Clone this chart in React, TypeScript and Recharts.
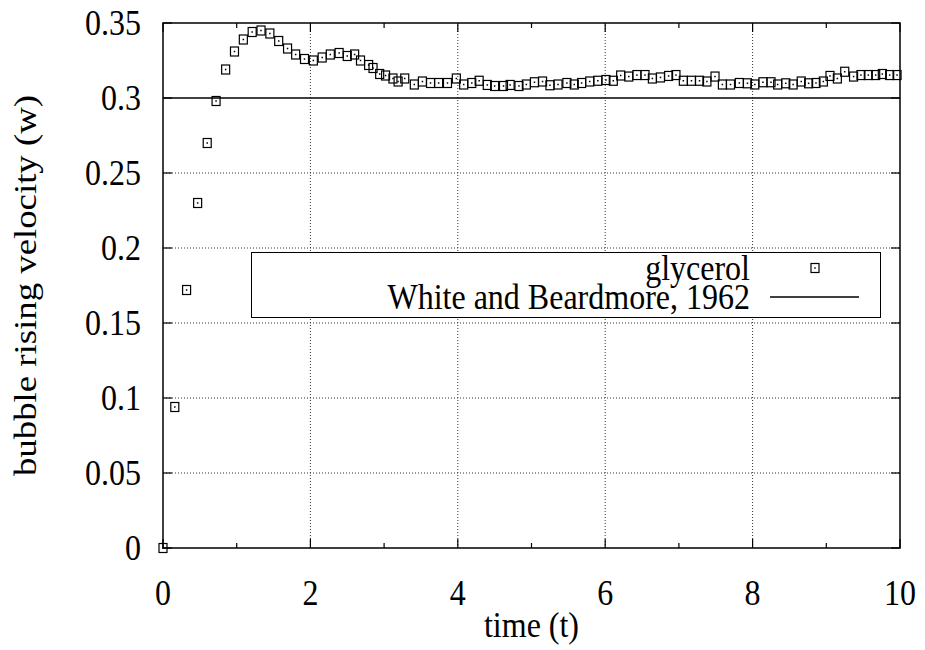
import {
  ComposedChart, Scatter, Line, XAxis, YAxis, ReferenceLine, ReferenceArea, Legend,
} from 'recharts';

// glycerol run
const glycerolT = [
  0, 0.16, 0.32, 0.47, 0.60, 0.72, 0.85, 0.97, 1.09, 1.21,
  1.33, 1.45, 1.57, 1.69, 1.80, 1.92, 2.04, 2.16, 2.27, 2.39,
  2.50, 2.60, 2.68, 2.79, 2.85, 2.94, 3.02, 3.12, 3.19, 3.28,
  3.41, 3.52, 3.63, 3.74, 3.86, 3.98, 4.08, 4.19, 4.29, 4.40,
  4.50, 4.62, 4.71, 4.83, 4.93, 5.04, 5.15, 5.25, 5.36, 5.48,
  5.58, 5.68, 5.79, 5.90, 6.01, 6.11, 6.21, 6.32, 6.43, 6.54,
  6.64, 6.75, 6.86, 6.96, 7.06, 7.17, 7.28, 7.38, 7.49, 7.59,
  7.70, 7.82, 7.93, 8.03, 8.14, 8.25, 8.34, 8.45, 8.55, 8.66,
  8.76, 8.86, 8.96, 9.05, 9.15, 9.25, 9.37, 9.47, 9.57, 9.67,
  9.76, 9.86, 9.96,
];
const glycerolW = [
  0, 0.094, 0.172, 0.230, 0.270, 0.298, 0.319, 0.331, 0.339, 0.344,
  0.345, 0.343, 0.338, 0.333, 0.329, 0.326, 0.325, 0.327, 0.329, 0.330,
  0.328, 0.329, 0.325, 0.322, 0.320, 0.316, 0.315, 0.313, 0.311, 0.313,
  0.309, 0.311, 0.310, 0.310, 0.310, 0.313, 0.309, 0.310, 0.3115, 0.3087,
  0.308, 0.308, 0.3087, 0.308, 0.309, 0.3105, 0.311, 0.3085, 0.309, 0.310,
  0.309, 0.310, 0.311, 0.3115, 0.312, 0.3115, 0.315, 0.3143, 0.3153, 0.3153,
  0.313, 0.3137, 0.3147, 0.3153, 0.3115, 0.3115, 0.3115, 0.311, 0.3143, 0.309,
  0.309, 0.310, 0.3098, 0.309, 0.3105, 0.3105, 0.309, 0.3098, 0.309, 0.311,
  0.3098, 0.310, 0.311, 0.3147, 0.313, 0.3175, 0.3143, 0.3153, 0.3153, 0.3153,
  0.316, 0.3153, 0.3153,
];

// White and Beardmore, 1962 terminal velocity
const beardmoreT = [0, 10];
const beardmoreW = [0.3, 0.3];

const seriesNames = ['glycerol', 'White and Beardmore, 1962'];

const xTicks = [0, 1, 2, 3, 4, 5, 6, 7, 8, 9, 10];
const xLabelled = [0, 2, 4, 6, 8, 10];
const yTicks = [0, 0.05, 0.1, 0.15, 0.2, 0.25, 0.3, 0.35];
const xGrid = [2, 4, 6, 8];
const yGrid = [0.05, 0.1, 0.15, 0.2, 0.25];

const glycerolData = glycerolT.map((t, i) => ({ t, w: glycerolW[i] }));
const beardmoreData = beardmoreT.map((t, i) => ({ t, w: beardmoreW[i] }));

const FONT = '"Liberation Serif", "Times New Roman", serif';
const FS = 32;
const STRETCH = 1.15; // the reference text is drawn taller than it is wide
const PLOT_TOP = 23;
const PLOT_RIGHT = 900;

function SText({ x, y, anchor, children }: { x: number; y: number; anchor: string; children: any }) {
  return (
    <text
      transform={`translate(${x},${y}) scale(1,${STRETCH})`}
      textAnchor={anchor as any}
      fontFamily={FONT}
      fontSize={FS}
      fill="#000"
    >
      {children}
    </text>
  );
}

function Marker({ cx, cy }: { cx: number; cy: number }) {
  return (
    <g>
      <rect x={cx - 4} y={cy - 4.5} width={8} height={9} fill="none" stroke="#000" strokeWidth={1.2} />
      <rect x={cx - 0.75} y={cy - 0.75} width={1.5} height={1.5} fill="#000" />
    </g>
  );
}

function XTick(props: any) {
  const { x, y, payload } = props;
  const major = xLabelled.includes(payload.value);
  const len = major ? 9 : 5;
  return (
    <g>
      <line x1={x} y1={y} x2={x} y2={y - len} stroke="#000" strokeWidth={1.2} />
      <line x1={x} y1={PLOT_TOP} x2={x} y2={PLOT_TOP + len} stroke="#000" strokeWidth={1.2} />
      {major && <SText x={x} y={y + 57} anchor="middle">{payload.value}</SText>}
    </g>
  );
}

function YTick(props: any) {
  const { x, y, payload } = props;
  return (
    <g>
      <line x1={x} y1={y} x2={x + 9} y2={y} stroke="#000" strokeWidth={1.2} />
      <line x1={PLOT_RIGHT} y1={y} x2={PLOT_RIGHT - 9} y2={y} stroke="#000" strokeWidth={1.2} />
      <SText x={x - 22} y={y + 12.4} anchor="end">{payload.value}</SText>
    </g>
  );
}

const rowStyle: any = {
  position: 'absolute', right: 130, whiteSpace: 'nowrap',
  transform: `scaleY(${STRETCH})`, transformOrigin: '50% 21.8px',
};

function LegendBox() {
  return (
    <div
      style={{
        position: 'relative', width: 630, height: 66, boxSizing: 'border-box',
        border: '1.5px solid #000', background: '#fff',
        fontFamily: FONT, fontSize: FS, lineHeight: '22px', color: '#000',
      }}
    >
      <span style={{ ...rowStyle, top: 5 }}>{seriesNames[0]}</span>
      <span style={{ ...rowStyle, top: 34 }}>{seriesNames[1]}</span>
      <svg width={627} height={63} style={{ position: 'absolute', left: 0, top: 0 }}>
        <Marker cx={563} cy={15} />
        <line x1={518} y1={44} x2={607} y2={44} stroke="#000" strokeWidth={1.5} />
      </svg>
    </div>
  );
}

export default function App() {
  return (
    <div style={{ position: 'absolute', left: 0, top: 0, background: '#fff' }}>
      <ComposedChart
        width={925}
        height={650}
        data={beardmoreData}
        margin={{ top: 23, right: 25, bottom: 2, left: 73 }}
      >
        <XAxis
          type="number"
          dataKey="t"
          domain={[0, 10]}
          ticks={xTicks}
          interval={0}
          height={100}
          axisLine={false}
          tickLine={false}
          tickSize={0}
          tickMargin={0}
          tick={(p: any) => <XTick {...p} />}
          label={{
            content: ({ viewBox }: any) => (
              <SText x={viewBox.x + viewBox.width / 2} y={viewBox.y + 89} anchor="middle">
                time (t)
              </SText>
            ),
          }}
        />
        <YAxis
          type="number"
          domain={[0, 0.35]}
          ticks={yTicks}
          interval={0}
          width={90}
          axisLine={false}
          tickLine={false}
          tickSize={0}
          tickMargin={0}
          tick={(p: any) => <YTick {...p} />}
          label={{
            content: ({ viewBox }: any) => {
              const cx = viewBox.x - 37;
              const cy = viewBox.y + viewBox.height / 2;
              return (
                <text
                  transform={`translate(${cx},${cy}) rotate(-90) scale(${STRETCH},1)`}
                  textAnchor="middle"
                  fontFamily={FONT}
                  fontSize={FS}
                  fill="#000"
                >
                  bubble rising velocity (w)
                </text>
              );
            },
          }}
        />
        {xGrid.map((v) => (
          <ReferenceLine key={`gx${v}`} x={v} stroke="#333" strokeDasharray="1 2" />
        ))}
        {yGrid.map((v) => (
          <ReferenceLine key={`gy${v}`} y={v} stroke="#333" strokeDasharray="1 2" />
        ))}
        <Line
          dataKey="w"
          name={seriesNames[1]}
          stroke="#000"
          strokeWidth={1.5}
          dot={false}
          isAnimationActive={false}
        />
        <Scatter
          data={glycerolData}
          dataKey="w"
          name={seriesNames[0]}
          shape={(p: any) => <Marker cx={p.cx} cy={p.cy} />}
          isAnimationActive={false}
        />
        <ReferenceArea x1={0} x2={10} y1={0} y2={0.35} fill="none" stroke="#000" strokeWidth={1.5} />
        <Legend
          layout="horizontal"
          verticalAlign="middle"
          align="center"
          content={() => <LegendBox />}
          wrapperStyle={{ left: 251, top: 252, width: 630, height: 66 }}
        />
      </ComposedChart>
    </div>
  );
}
